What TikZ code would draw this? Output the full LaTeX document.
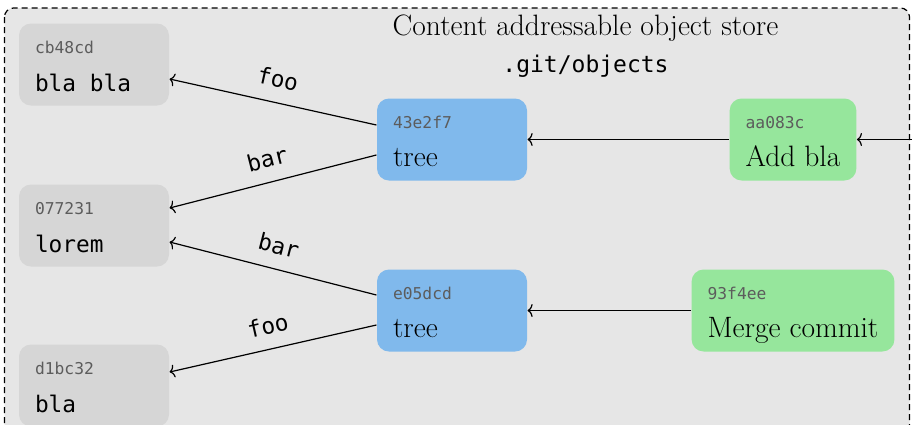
\documentclass[tikz,border=0pt]{standalone}
\usepackage{fontspec}
\usepackage{xcolor}
\usepackage{tikz}
\usetikzlibrary{arrows.meta}
\newfontfamily\codefont{DejaVu Sans Mono}
\definecolor{storefill}{HTML}{E6E6E6}
\definecolor{blobfill}{HTML}{D6D6D6}
\definecolor{treefill}{HTML}{80B9EC}
\definecolor{commitfill}{HTML}{96E69C}
\definecolor{hashgray}{HTML}{5C5C5C}
\newcommand{\hashid}[1]{{\codefont\fontsize{16.3pt}{38pt}\selectfont\color{hashgray}#1}}

\begin{document}
\begin{tikzpicture}[x=1pt, y=-1pt, node distance=171pt, line width=1.2pt, >={To[length=5pt, width=13pt]},
  objbox/.style={rectangle, rounded corners=12pt, minimum height=82pt, inner xsep=16pt, inner ysep=0pt},
  blobnode/.style={objbox, fill=blobfill, minimum width=150pt, text width=118pt, align=flush left, text height=15pt, text depth=38pt, font=\codefont\fontsize{22.8pt}{38pt}\selectfont},
  treenode/.style={objbox, fill=treefill, minimum width=150pt, text width=118pt, align=flush left, text height=15pt, text depth=38pt, font=\fontsize{29.5pt}{38pt}\selectfont},
  commitnode/.style={objbox, fill=commitfill, align=left, text height=53pt, text depth=0pt, font=\fontsize{29.5pt}{38pt}\selectfont},
  edgelabel/.style={sloped, above=14pt, inner sep=0pt, font=\codefont\fontsize{22.8pt}{27pt}\selectfont}]
\useasboundingbox (0,0) rectangle (912,424);
\clip (0,0) rectangle (912,424);
\draw[dashed, dash pattern=on 6pt off 4pt, fill=storefill, rounded corners=9pt] (4.5,8) rectangle (909.5,460);

\node (title) [anchor=base, font=\fontsize{29.5pt}{34pt}\selectfont] at (585.5,35) {Content addressable object store};
\node (objdir) [anchor=base, font=\codefont\fontsize{23pt}{28pt}\selectfont] at (585.5,72) {.git/objects};

\node (tree1) [treenode] at (452,139.5) {\hashid{43e2f7}\\tree};
\node (tree2) [treenode, below of=tree1] {\hashid{e05dcd}\\tree};
\node (commit1) [commitnode, right of=tree1, xshift=170pt] {\hashid{aa083c}\\Add bla};
\node (commit2) [commitnode, right of=tree2, xshift=170pt] {\hashid{93f4ee}\\Merge commit};
\node (blob1) [blobnode, left of=tree1, xshift=-187pt, yshift=75pt] {\hashid{cb48cd}\\bla bla};
\node (blob2) [blobnode, left of=tree1, xshift=-187pt, yshift=-86pt] {\hashid{077231}\\lorem};
\node (blob3) [blobnode, left of=tree2, xshift=-187pt, yshift=-75pt] {\hashid{d1bc32}\\bla};
\coordinate (offpage) at (940,139.5);

\draw[->] ([yshift=14.5pt]tree1.west) -- node[edgelabel] {foo} ([yshift=-14.5pt]blob1.east);
\draw[->] ([yshift=-15.5pt]tree1.west) -- node[edgelabel] {bar} ([yshift=17.5pt]blob2.east);
\draw[->] ([yshift=15.5pt]tree2.west) -- node[edgelabel] {bar} ([yshift=-16.5pt]blob2.east);
\draw[->] ([yshift=-14.5pt]tree2.west) -- node[edgelabel] {foo} ([yshift=13.5pt]blob3.east);
\draw[->] (commit1) -- (tree1);
\draw[->] (commit2) -- (tree2);
\draw[->] (offpage) -- (commit1);
\end{tikzpicture}
\end{document}
